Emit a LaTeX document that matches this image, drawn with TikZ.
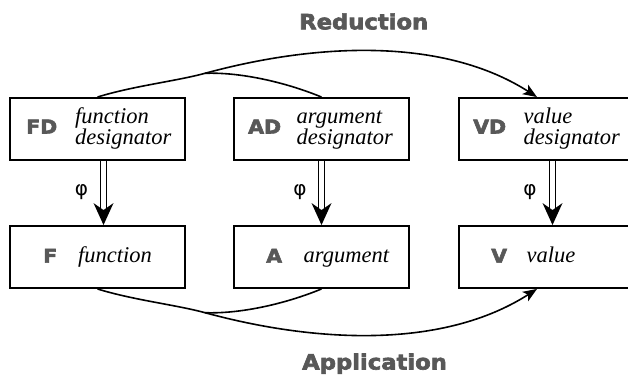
\documentclass[tikz,border=0pt]{standalone}
\usepackage{fontspec}
\setmainfont{Liberation Serif}
\newfontfamily\labfont{DejaVu Sans}[FakeStretch=1.08, BoldFeatures={FakeBold=3}]
\newfontfamily\phifont{DejaVu Sans}
\usetikzlibrary{arrows.meta}
\definecolor{labgray}{RGB}{88,88,88}
\begin{document}
\begin{tikzpicture}[x=1pt,y=-1pt,
  box/.style={draw, line width=1.9pt, minimum width=175pt, minimum height=62pt, inner sep=0pt, outer sep=0.95pt},
  lab/.style={text=labgray, font=\labfont\bfseries\fontsize{19}{19}\selectfont, inner sep=0pt, anchor=base west},
  itx/.style={font=\itshape\fontsize{22.5}{20}\selectfont, inner sep=0pt, anchor=base west},
  big/.style={text=labgray, font=\labfont\bfseries\fontsize{21}{21}\selectfont, inner sep=0pt, anchor=base west},
  phil/.style={font=\phifont\fontsize{20}{20}\selectfont, inner sep=0pt},
  curve/.style={line width=1.6pt, -{Stealth[length=14pt,width=11pt,inset=3.5pt]}},
  plain/.style={line width=1.6pt},
  rail/.style={line width=1.4pt},
]
\useasboundingbox (0,0) rectangle (628,377);
\clip (0,0) rectangle (628,377);

% boxes
\node[box] (FD) at (97.5,129) {};
\node[box] (AD) at (321.5,129) {};
\node[box] (VD) at (546.5,129) {};
\node[box] (F) at (97.5,257) {};
\node[box] (A) at (321.5,257) {};
\node[box] (V) at (546.5,257) {};

% top texts
\node[lab] (FDl) at (26,133.5) {FD};
\node[itx] (FDa) at (75,123.9) {function};
\node[itx] (FDb) at (75,144.4) {designator};
\node[lab] (ADl) at (248,133.5) {AD};
\node[itx] (ADa) at (296.5,123.9) {argument};
\node[itx] (ADb) at (296.5,144.4) {designator};
\node[lab] (VDl) at (473,133.5) {VD};
\node[itx] (VDa) at (523.5,123.9) {value};
\node[itx] (VDb) at (523.5,144.4) {designator};

% bottom texts
\node[lab] (Fl) at (43,262.7) {F};
\node[itx] (Ft) at (78,262.7) {function};
\node[lab] (Al) at (266,262.7) {A};
\node[itx] (At) at (303.5,262.7) {argument};
\node[lab] (Vl) at (491,262.7) {V};
\node[itx] (Vt) at (526.5,262.7) {value};

% titles
\node[big] (red) at (299,29.3) {Reduction};
\node[big] (app) at (302,369.5) {Application};

% phi labels
\node[phil] (p1) at (81.5,192.5) {φ};
\node[phil] (p2) at (300,192.5) {φ};
\node[phil] (p3) at (530,192.5) {φ};

% double arrows
\foreach \u/\l/\s in {FD/F/6, AD/A/0, VD/V/6}{
  \draw[rail] ([xshift=\s pt-2.85pt]\u.south) -- ([xshift=\s pt-2.85pt, yshift=12pt]\l.north);
  \draw[rail] ([xshift=\s pt+2.85pt]\u.south) -- ([xshift=\s pt+2.85pt, yshift=12pt]\l.north);
  \fill ([xshift=\s pt]\l.north) -- ++(-10,-22) -- ++(10,7) -- ++(10,-7) -- cycle;
}

% reduction curves
\coordinate (J1) at (205,73.3);
\draw[curve] (FD.north) .. controls (133,86) and (176,81.2) .. (J1)
  .. controls (320,42) and (445,38) .. ([xshift=-9.5pt]VD.north);
\draw[plain] (AD.north) .. controls (285,82) and (240,72) .. (J1);

% application curves
\coordinate (J2) at (205,312.7);
\draw[curve] (F.south) .. controls (133,300) and (176,304.8) .. (J2)
  .. controls (320,344) and (445,348) .. ([xshift=-9.5pt]V.south);
\draw[plain] (A.south) .. controls (285,304) and (240,314) .. (J2);
\end{tikzpicture}
\end{document}
